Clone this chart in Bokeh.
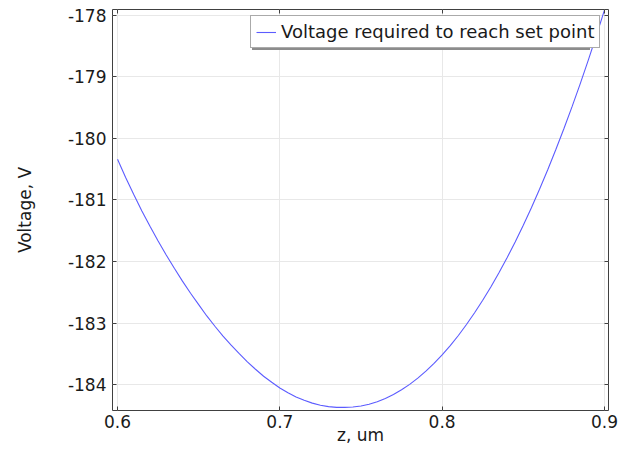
from bokeh.plotting import figure
from bokeh.models import Legend, LegendItem, LinearAxis, Range1d, FixedTicker
from bokeh.embed import file_html
from bokeh.resources import INLINE

# data
z_um = [0.600, 0.605, 0.610, 0.615, 0.620, 0.625, 0.630, 0.635, 0.640, 0.645,
        0.650, 0.655, 0.660, 0.665, 0.670, 0.675, 0.680, 0.685, 0.690, 0.695,
        0.700, 0.705, 0.710, 0.715, 0.720, 0.725, 0.730, 0.735, 0.740, 0.745,
        0.750, 0.755, 0.760, 0.765, 0.770, 0.775, 0.780, 0.785, 0.790, 0.795,
        0.800, 0.805, 0.810, 0.815, 0.820, 0.825, 0.830, 0.835, 0.840, 0.845,
        0.850, 0.855, 0.860, 0.865, 0.870, 0.875, 0.880, 0.885, 0.890, 0.895,
        0.900]
voltage = [-180.340, -180.637, -180.915, -181.180, -181.430, -181.667, -181.895, -182.110, -182.320, -182.516,
           -182.702, -182.885, -183.052, -183.211, -183.359, -183.498, -183.631, -183.750, -183.864, -183.962,
           -184.055, -184.132, -184.199, -184.255, -184.300, -184.334, -184.357, -184.369, -184.370, -184.364,
           -184.347, -184.318, -184.278, -184.225, -184.161, -184.084, -183.996, -183.895, -183.781, -183.655,
           -183.517, -183.366, -183.202, -183.024, -182.834, -182.631, -182.414, -182.184, -181.941, -181.683,
           -181.412, -181.127, -180.829, -180.516, -180.188, -179.847, -179.491, -179.121, -178.735, -178.336,
           -177.921]
x_ticks = [0.6, 0.7, 0.8, 0.9]
y_ticks = [-184, -183, -182, -181, -180, -179, -178]
y_tick_labels = ["-184", "-183", "-182", "-181", "-180", "-179", "-178"]
series_label = "Voltage required to reach set point"
x_title = "z, um"
y_title = "Voltage, V"

FONT = "DejaVu Sans"
FS = "17px"

p = figure(width=618, height=449, output_backend="svg", toolbar_location=None,
           x_range=Range1d(0.5969, 0.9025), y_range=Range1d(-184.42, -177.91),
           min_border_left=112, min_border_right=10, min_border_top=9, min_border_bottom=39)
p.background_fill_color = "white"
p.border_fill_color = "white"
p.outline_line_color = "#404040"
p.outline_line_width = 1

line = p.line(z_um, voltage, line_color="#5c5cff", line_width=1.1)

for ax in (p.xaxis[0], p.yaxis[0]):
    ax.axis_line_color = None
    ax.major_tick_in = 4
    ax.major_tick_out = 0
    ax.major_tick_line_color = "#404040"
    ax.minor_tick_line_color = None
    ax.major_label_text_font = FONT
    ax.major_label_text_font_size = FS
    ax.major_label_text_color = "#1a1a1a"
    ax.axis_label_text_font = FONT
    ax.axis_label_text_font_size = FS
    ax.axis_label_text_font_style = "normal"
    ax.axis_label_text_color = "#1a1a1a"

p.xaxis[0].ticker = FixedTicker(ticks=x_ticks)
p.yaxis[0].ticker = FixedTicker(ticks=y_ticks)
p.yaxis[0].major_label_overrides = dict(zip(y_ticks, y_tick_labels))
p.xaxis[0].axis_label = x_title
p.yaxis[0].axis_label = y_title
p.xaxis[0].major_label_standoff = 4
p.yaxis[0].major_label_standoff = 6
p.xaxis[0].axis_label_standoff = -6
p.yaxis[0].axis_label_standoff = 30

for loc, tk in (("right", y_ticks), ("above", x_ticks)):
    ax = LinearAxis(ticker=FixedTicker(ticks=tk))
    ax.axis_line_color = None
    ax.major_tick_in = 4
    ax.major_tick_out = 0
    ax.major_tick_line_color = "#404040"
    ax.minor_tick_line_color = None
    ax.major_label_text_font_size = "0px"
    ax.major_label_standoff = 0
    p.add_layout(ax, loc)

p.xgrid.ticker = FixedTicker(ticks=x_ticks)
p.ygrid.ticker = FixedTicker(ticks=y_ticks)
p.grid.grid_line_color = "#e8e8e8"
p.grid.grid_line_width = 1

def make_legend(loc, shadow):
    lbl = "" if shadow else series_label
    lg = Legend(items=[LegendItem(label=lbl, renderers=[line])],
                location=loc, orientation="vertical")
    lg.label_text_font = FONT
    lg.label_text_font_size = "18px"
    lg.label_text_color = "#1a1a1a"
    lg.glyph_width = 20
    lg.glyph_height = 18
    lg.label_standoff = 5
    lg.label_width = 313
    lg.padding = 5
    lg.margin = 0
    lg.spacing = 0
    lg.label_height = 18
    if shadow:
        lg.background_fill_color = "#8c8c8c"
        lg.background_fill_alpha = 1.0
        lg.border_line_color = None
    else:
        lg.background_fill_color = "white"
        lg.background_fill_alpha = 1.0
        lg.border_line_color = "#555555"
        lg.border_line_width = 1
    return lg

p.add_layout(make_legend((140, 360), True))
p.add_layout(make_legend((138, 362), False))

open("out.html", "w").write(file_html(p, INLINE))
